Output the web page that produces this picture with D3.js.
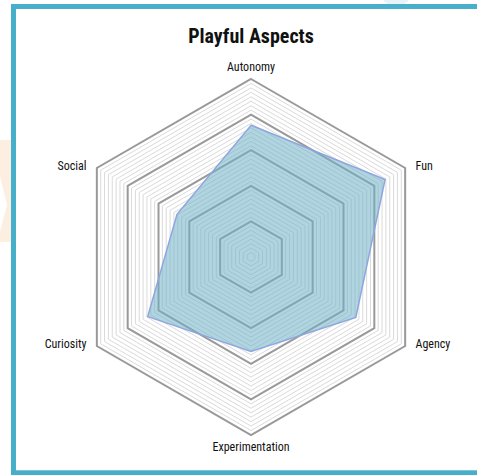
<!DOCTYPE html>
<html>
<head>
<meta charset="utf-8">
<script src="https://cdn.jsdelivr.net/npm/d3@7/dist/d3.min.js"></script>
<style>
  html, body { margin: 0; padding: 0; background: #fff; }
  svg { display: block; }
  text { font-family: "Liberation Sans Narrow", "Roboto Condensed", "DejaVu Sans Condensed", "Liberation Sans", sans-serif; fill: #111; }
</style>
</head>
<body>
<svg id="chart" width="477" height="475"></svg>
<script>
// Axes of the radar, clockwise from the top
const axes = ["Autonomy", "Fun", "Agency", "Experimentation", "Curiosity", "Social"];
// Score on each axis (0–100)
const scores = [74, 87, 68, 53, 67, 48];
// Grid: 40 rings, every 8th drawn heavier
const ringCount = 40;
const majorEvery = 8;
const maxScore = 100;
const title = "Playful Aspects";

const svg = d3.select("#chart");
const W = 477, H = 475;
const cx = 251, cy = 257, R = 178;

// faint decorative shapes behind the frame
svg.append("path")
  .attr("d", "M0,140 L11,140 L11,242 L0,242 L0,232 L7,205 L0,176 Z")
  .attr("fill", "#fdeee2");
svg.append("ellipse")
  .attr("cx", 396).attr("cy", -4).attr("rx", 14).attr("ry", 10)
  .attr("fill", "#e6f3f8");

// frame
svg.append("rect")
  .attr("x", 13.5).attr("y", 6.5)
  .attr("width", 480).attr("height", 466.3)
  .attr("fill", "#fff")
  .attr("stroke", "#47afca")
  .attr("stroke-width", 5);

const r = d3.scaleLinear().domain([0, maxScore]).range([0, R]);
const angle = d3.scaleLinear().domain([0, axes.length]).range([0, 2 * Math.PI]);

const radial = d3.lineRadial()
  .angle((d, i) => angle(i))
  .radius(d => d)
  .curve(d3.curveLinearClosed);

const g = svg.append("g").attr("transform", `translate(${cx},${cy})`);

// concentric hexagon grid
const rings = d3.range(1, ringCount + 1);
g.selectAll("path.ring")
  .data(rings.filter(i => i % majorEvery !== 0))
  .join("path")
  .attr("class", "ring")
  .attr("d", i => radial(axes.map(() => r(maxScore * i / ringCount))))
  .attr("fill", "none")
  .attr("stroke", "#dadada")
  .attr("stroke-width", 1);

g.selectAll("path.major")
  .data(rings.filter(i => i % majorEvery === 0))
  .join("path")
  .attr("class", "major")
  .attr("d", i => radial(axes.map(() => r(maxScore * i / ringCount))))
  .attr("fill", "none")
  .attr("stroke", "#999")
  .attr("stroke-width", 2);

// score polygon
g.append("path")
  .attr("d", radial(scores.map(v => r(v))))
  .attr("fill", "#6fb2c6")
  .attr("fill-opacity", 0.55)
  .attr("stroke", "#8ea6e0")
  .attr("stroke-width", 1.5);

// axis labels
g.selectAll("text.axis")
  .data(axes)
  .join("text")
  .attr("class", "axis")
  .attr("font-size", 12)
  .attr("x", (d, i) => (R + 12) * Math.sin(angle(i)))
  .attr("y", (d, i) => {
    const c = -Math.cos(angle(i));
    return Math.abs(c) > 0.99 ? (R + 12) * c : R * c;
  })
  .attr("dy", (d, i) => Math.abs(Math.cos(angle(i))) > 0.99 ? "0.32em" : "0.2em")
  .attr("text-anchor", (d, i) => {
    const s = Math.sin(angle(i));
    return Math.abs(s) < 0.01 ? "middle" : (s > 0 ? "start" : "end");
  })
  .text(d => d);

// title
svg.append("text")
  .attr("x", cx).attr("y", 43)
  .attr("text-anchor", "middle")
  .attr("font-size", 20)
  .attr("font-weight", "bold")
  .text(title);
</script>
</body>
</html>
